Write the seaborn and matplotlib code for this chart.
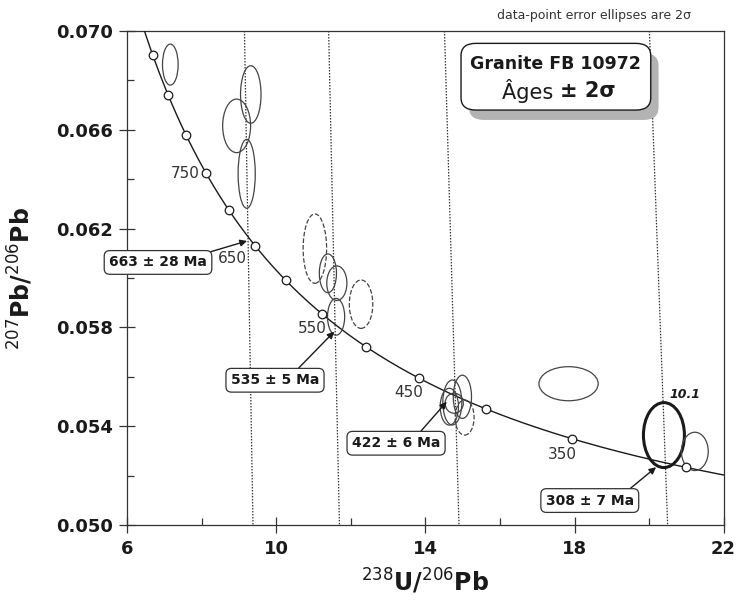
import matplotlib
matplotlib.use("Agg")
import matplotlib.pyplot as plt
from matplotlib.patches import Ellipse, FancyBboxPatch
from matplotlib.ticker import FixedLocator, FormatStrFormatter
import numpy as np
import pandas as pd
import seaborn as sns

# axis ticks
x_major = [6, 10, 14, 18, 22]
x_minor = [8, 12, 16, 20]
y_major = [0.050, 0.054, 0.058, 0.062, 0.066, 0.070]
y_minor = [0.052, 0.056, 0.060, 0.064, 0.068]

# concordia age markers (Ma) and the ages that get a label
marker_ages = [300, 350, 400, 450, 500, 550, 600, 650, 700, 750, 800, 850, 900]
label_ages = ["350", "450", "550", "650", "750"]
label_x = [17.66, 13.54, 10.95, 8.81, 7.54]
label_y = [0.05286, 0.05537, 0.05794, 0.06080, 0.06425]

# discordia lines: x at top (y=0.070) and at bottom (y=0.050)
disc_top_x = [9.14, 11.40, 14.51, 20.01]
disc_bot_x = [9.37, 11.69, 14.90, 20.50]

# data-point error ellipses (2 sigma)
ell_x = [7.15, 9.31, 8.93, 9.20, 11.03, 11.38, 11.62, 11.60, 12.27,
         14.99, 14.64, 14.72, 14.77, 15.05, 17.84, 20.40, 21.23]
ell_y = [0.06864, 0.06743, 0.06616, 0.06422, 0.06119, 0.06019, 0.05979, 0.05843, 0.05894,
         0.05519, 0.05479, 0.05496, 0.05493, 0.05435, 0.05572, 0.05364, 0.05298]
ell_w = [0.42, 0.55, 0.75, 0.46, 0.63, 0.46, 0.54, 0.46, 0.63,
         0.49, 0.49, 0.51, 0.49, 0.51, 1.59, 1.10, 0.72]
ell_h = [0.00166, 0.00233, 0.00217, 0.00279, 0.00281, 0.00157, 0.00140, 0.00149, 0.00196,
         0.00175, 0.00149, 0.00182, 0.00081, 0.00142, 0.00138, 0.00263, 0.00155]
ell_style = ["solid", "solid", "solid", "solid", "dashed", "solid", "solid", "solid", "dashed",
             "solid", "solid", "solid", "solid", "dashed", "solid", "bold", "solid"]

# intercept ages: label text, box centre, arrow target
age_text = ["663 ± 28 Ma", "535 ± 5 Ma", "422 ± 6 Ma", "308 ± 7 Ma"]
box_x = [6.82, 9.96, 13.21, 18.41]
box_y = [0.06063, 0.05586, 0.05331, 0.05099]
tip_x = [9.21, 11.55, 14.57, 20.19]
tip_y = [0.06150, 0.05783, 0.05499, 0.05234]
arrow_rel = [0.91, 0.71, 0.73, 0.89]

L238 = 1.55125e-10
L235 = 9.8485e-10
U_RATIO = 137.88


def tera_wasserburg(age_ma):
  t = np.asarray(age_ma, dtype=float) * 1e6
  e238 = np.exp(L238 * t) - 1
  e235 = np.exp(L235 * t) - 1
  return 1 / e238, e235 / e238 / U_RATIO


sns.set_theme(style="ticks")
plt.rcParams["font.family"] = ["DejaVu Sans"]

fig = plt.figure(figsize=(7.42, 6.07), dpi=100)
ax = fig.add_axes([0.1718, 0.1351, 0.8033, 0.8138])

# concordia curve
curve_ages = np.arange(280, 1001, 2)
cx, cy = tera_wasserburg(curve_ages)
sns.lineplot(x=cx, y=cy, ax=ax, color="#1a1a1a", lw=1.0, sort=False, estimator=None, zorder=3)

# discordia lines
disc = pd.DataFrame({
  "x": disc_top_x + disc_bot_x,
  "y": [0.070] * 4 + [0.050] * 4,
  "line": list(range(4)) * 2,
})
sns.lineplot(data=disc, x="x", y="y", units="line", estimator=None, sort=False,
             ax=ax, color="#333333", lw=0.9, linestyle=(0, (1.2, 1.2)), zorder=2)

# error ellipses
for x, y, w, h, s in zip(ell_x, ell_y, ell_w, ell_h, ell_style):
  ax.add_patch(Ellipse((x, y), w, h, fill=False,
                       ec="#1a1a1a" if s == "bold" else "#444444",
                       lw=2.2 if s == "bold" else 0.9,
                       ls="--" if s == "dashed" else "-", zorder=4))

# age markers on concordia
mx, my = tera_wasserburg(marker_ages)
sns.scatterplot(x=mx, y=my, ax=ax, s=38, color="white", edgecolor="#1a1a1a",
                linewidth=0.9, zorder=5)

for t, x, y in zip(label_ages, label_x, label_y):
  ax.text(x, y, t, ha="center", va="center", fontsize=11, color="#333333", zorder=6)

for t, bx, by, tx, ty, r in zip(age_text, box_x, box_y, tip_x, tip_y, arrow_rel):
  ax.annotate(t, xy=(tx, ty), xytext=(bx, by), ha="center", va="center",
              fontsize=10, fontweight="bold", color="#1a1a1a", annotation_clip=False,
              bbox=dict(boxstyle="round,pad=0.35,rounding_size=0.4", fc="white", ec="#333333", lw=0.9),
              arrowprops=dict(arrowstyle="-|>", color="#1a1a1a", lw=1.0, mutation_scale=10,
                              relpos=(r, 1.0), shrinkA=0, shrinkB=0),
              zorder=7)

ax.text(20.97, 0.05530, "10.1", ha="center", va="center", fontsize=9,
        fontweight="bold", fontstyle="italic", color="#1a1a1a", zorder=6)

# sample box with shadow
ax.add_patch(FancyBboxPatch((0.573, 0.820), 0.318, 0.135, transform=ax.transAxes,
                            boxstyle="round,pad=0,rounding_size=0.025", fc="#b3b3b3",
                            ec="none", zorder=8, clip_on=False))
ax.add_patch(FancyBboxPatch((0.5596, 0.840), 0.3183, 0.135, transform=ax.transAxes,
                            boxstyle="round,pad=0,rounding_size=0.025", fc="white",
                            ec="#1a1a1a", lw=1.0, zorder=9, clip_on=False))
ax.text(0.7188, 0.934, "Granite FB 10972", transform=ax.transAxes, ha="center", va="center",
        fontsize=12.5, fontweight="bold", color="#1a1a1a", zorder=10)
ax.text(0.725, 0.878, "Âges ", transform=ax.transAxes, ha="right", va="center",
        fontsize=15, color="#1a1a1a", zorder=10)
ax.text(0.725, 0.878, "± 2σ", transform=ax.transAxes, ha="left", va="center",
        fontsize=15, fontweight="bold", color="#1a1a1a", zorder=10)

fig.text(0.8005, 0.975, "data-point error ellipses are 2σ", ha="center", va="center",
         fontsize=9, color="#333333")

ax.set_xlim(6, 22)
ax.set_ylim(0.050, 0.070)
ax.xaxis.set_major_locator(FixedLocator(x_major))
ax.xaxis.set_minor_locator(FixedLocator(x_minor))
ax.yaxis.set_major_locator(FixedLocator(y_major))
ax.yaxis.set_minor_locator(FixedLocator(y_minor))
ax.yaxis.set_major_formatter(FormatStrFormatter("%.3f"))
ax.tick_params(which="major", direction="inout", length=11, width=0.9, color="#333333",
               labelsize=13, pad=5)
ax.tick_params(which="minor", direction="in", length=5, width=0.9, color="#333333")
for lab in ax.get_xticklabels() + ax.get_yticklabels():
  lab.set_fontweight("bold")
  lab.set_color("#1a1a1a")
for sp in ax.spines.values():
  sp.set_color("#333333")
  sp.set_linewidth(0.9)

ax.set_xlabel(r"$^{238}$U/$^{206}$Pb", fontsize=17, fontweight="bold", color="#1a1a1a")
ax.set_ylabel(r"$^{207}$Pb/$^{206}$Pb", fontsize=17, fontweight="bold", color="#1a1a1a")
ax.xaxis.set_label_coords(0.5, -0.085)
ax.yaxis.set_label_coords(-0.155, 0.5)

fig.savefig("out.png", dpi=100)
plt.close(fig)
